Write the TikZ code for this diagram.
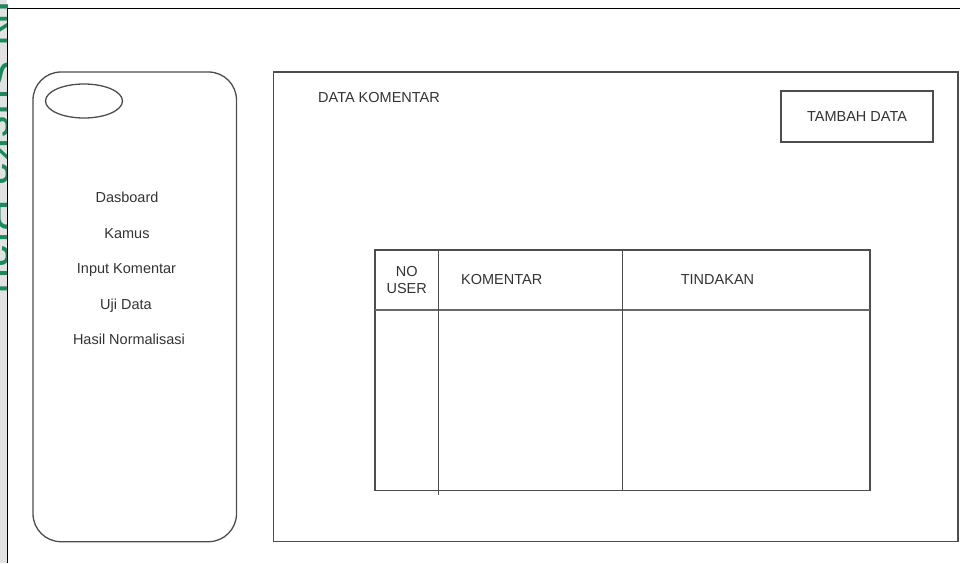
\documentclass[tikz,border=0pt]{standalone}
\usepackage{fontspec}
\setmainfont{Liberation Sans}
\usetikzlibrary{shapes.geometric}
\definecolor{linegray}{RGB}{77,77,77}
\definecolor{textgray}{RGB}{51,51,51}
\definecolor{suskagreen}{RGB}{24,138,92}
\definecolor{stripgray}{RGB}{225,227,226}
\begin{document}
\begin{tikzpicture}[x=1pt,y=-1pt,
  box/.style={draw=linegray,line width=1.3pt,rectangle,inner sep=0pt},
  lbl/.style={text=textgray,font=\fontsize{14.5}{16.6}\selectfont,inner sep=0pt},
  menu/.style={lbl,anchor=base}]
\useasboundingbox (0,0) rectangle (960,563);
\fill[stripgray] (0,0) rectangle (7,563);
\begin{scope}
\clip (0,0) rectangle (7,563);
\node[text=suskagreen,font=\fontsize{46}{46}\selectfont,rotate=-90,anchor=base west,inner sep=0pt] (wm) at (-16,-33) {UIN Suska Riau};
\end{scope}
\draw[black,line width=1.5pt] (7.5,563) -- (7.5,8.5) -- (960,8.5);
\node[box,rounded corners=28pt,minimum width=203.5pt,minimum height=469.7pt] (sidebar) at (134.75,306.85) {};
\node[draw=linegray,line width=1.3pt,ellipse,minimum width=77pt,minimum height=34pt,inner sep=0pt] (logo) at (84,101) {};
\node[menu] (dasboard) at (127,202.7) {Dasboard};
\node[menu] (kamus) at (127,238.2) {Kamus};
\node[menu] (input) at (126.5,273.7) {Input Komentar};
\node[menu] (uji) at (126,309.2) {Uji Data};
\node[menu] (hasil) at (129,344.7) {Hasil Normalisasi};
\node[box,minimum width=684.5pt,minimum height=469.7pt] (content) at (615.75,306.85) {};
\node[lbl,anchor=base west] (judul) at (318,102.7) {DATA KOMENTAR};
\node[box,lbl,minimum width=152pt,minimum height=51pt] (tambah) at (857,116.5) {TAMBAH DATA};
\node[box,minimum width=495pt,minimum height=240.7pt] (tabel) at (622.5,370.35) {};
\draw[draw=linegray!85,line width=2pt] (375,310) -- (870,310);
\draw[linegray,line width=1.3pt] (438.7,250) -- (438.7,495);
\draw[linegray,line width=1.3pt] (622.7,250) -- (622.7,490.7);
\node[lbl,align=center] (nouser) at (406.7,280) {NO\\USER};
\node[lbl] (kolkomentar) at (501.7,279.3) {KOMENTAR};
\node[lbl] (koltindakan) at (717.5,279.3) {TINDAKAN};
\end{tikzpicture}
\end{document}
